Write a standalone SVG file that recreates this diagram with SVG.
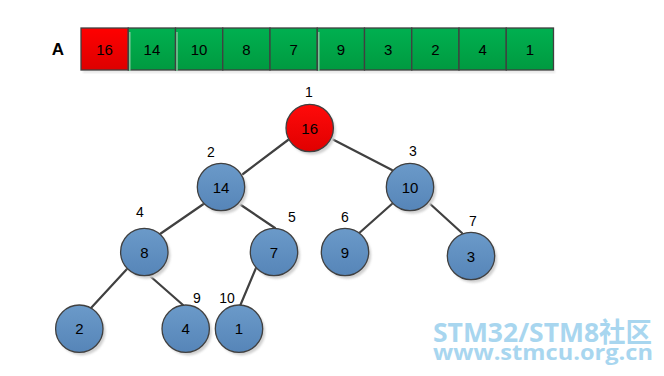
<svg xmlns="http://www.w3.org/2000/svg" width="664" height="376" viewBox="0 0 664 376">
<style>
.cell{stroke:#404040;stroke-width:1.3}
.ct{font-family:"Liberation Sans",Arial,sans-serif;font-size:15px;fill:#000;text-anchor:middle}
.nt{font-family:"Liberation Sans",Arial,sans-serif;font-size:15px;fill:#000;text-anchor:middle}
.idx{font-family:"Liberation Sans",Arial,sans-serif;font-size:14px;fill:#000;text-anchor:middle}
.node{stroke:#404040;stroke-width:1.3}
.blue{fill:url(#gb)}
.red{fill:url(#gr)}
.edge{stroke:#404040;stroke-width:2.2;fill:none;stroke-linecap:round}
.wm{font-family:"Open Sans","Noto Sans CJK SC",sans-serif;font-weight:bold;fill:#a8d6ef}
</style>
<defs>
<linearGradient id="gb" x1="0" y1="0" x2="0" y2="1"><stop offset="0" stop-color="#6b9ac9"/><stop offset="1" stop-color="#5685b8"/></linearGradient>
<linearGradient id="gr" x1="0" y1="0" x2="0" y2="1"><stop offset="0" stop-color="#ff0a0a"/><stop offset="1" stop-color="#e00000"/></linearGradient>
<linearGradient id="gg" x1="0" y1="0" x2="0" y2="1"><stop offset="0" stop-color="#00b050"/><stop offset="1" stop-color="#009a40"/></linearGradient>
<linearGradient id="gcr" x1="0" y1="0" x2="0" y2="1"><stop offset="0" stop-color="#ff0000"/><stop offset="1" stop-color="#dd0000"/></linearGradient>
<filter id="sh" x="-30%" y="-30%" width="160%" height="160%"><feGaussianBlur stdDeviation="1.2"/></filter>
</defs>
<rect width="664" height="376" fill="#fff"/>

<g id="array">
<text x="58" y="55" style="font-family:'Liberation Sans',Arial,sans-serif;font-size:17px;font-weight:bold;fill:#000" text-anchor="middle">A</text>
<rect x="83" y="70" width="472" height="3" fill="#e6e6e6" filter="url(#sh)"/>
<rect class="cell" x="81" y="28" width="47.25" height="42" fill="url(#gcr)"/>
<rect class="cell" x="128.25" y="28" width="47.25" height="42" fill="url(#gg)"/>
<rect class="cell" x="175.5" y="28" width="47.25" height="42" fill="url(#gg)"/>
<rect class="cell" x="222.75" y="28" width="47.25" height="42" fill="url(#gg)"/>
<rect class="cell" x="270" y="28" width="47.25" height="42" fill="url(#gg)"/>
<rect class="cell" x="317.25" y="28" width="47.25" height="42" fill="url(#gg)"/>
<rect class="cell" x="364.5" y="28" width="47.25" height="42" fill="url(#gg)"/>
<rect class="cell" x="411.75" y="28" width="47.25" height="42" fill="url(#gg)"/>
<rect class="cell" x="459" y="28" width="47.25" height="42" fill="url(#gg)"/>
<rect class="cell" x="506.25" y="28" width="47.25" height="42" fill="url(#gg)"/>
<line x1="129.8" y1="32" x2="129.8" y2="71" stroke="#7fc79a" stroke-width="1.5"/>
<line x1="177" y1="32" x2="177" y2="71" stroke="#7fc79a" stroke-width="1.5"/>
<line x1="318.8" y1="32" x2="318.8" y2="71" stroke="#7fc79a" stroke-width="1.5"/>
<text class="ct" x="104.6" y="55">16</text>
<text class="ct" x="151.9" y="55">14</text>
<text class="ct" x="199.1" y="55">10</text>
<text class="ct" x="246.4" y="55">8</text>
<text class="ct" x="293.6" y="55">7</text>
<text class="ct" x="340.9" y="55">9</text>
<text class="ct" x="388.1" y="55">3</text>
<text class="ct" x="435.4" y="55">2</text>
<text class="ct" x="482.6" y="55">4</text>
<text class="ct" x="529.9" y="55">1</text>
</g>

<g id="connectors">
<line class="edge" x1="288" y1="140" x2="243" y2="174"/>
<line class="edge" x1="332" y1="139" x2="392" y2="170"/>
<line class="edge" x1="205" y1="203" x2="160" y2="234"/>
<line class="edge" x1="238" y1="203" x2="275" y2="228"/>
<line class="edge" x1="393" y1="203" x2="357" y2="235"/>
<line class="edge" x1="428" y1="202" x2="462" y2="233"/>
<line class="edge" x1="127" y1="269" x2="91" y2="308"/>
<line class="edge" x1="150" y1="276" x2="183" y2="305"/>
<line class="edge" x1="256" y1="268" x2="240" y2="306"/>
</g>

<g id="n1"><circle cx="312" cy="131" r="23.7" fill="#d0d0d0" filter="url(#sh)"/><circle class="node red" cx="309.7" cy="128" r="23.7"/><text class="nt" x="309.7" y="133.5">16</text><text class="idx" x="309" y="97">1</text></g>
<g id="n2"><circle cx="223.5" cy="190" r="23.7" fill="#d0d0d0" filter="url(#sh)"/><circle class="node blue" cx="221" cy="187" r="23.7"/><text class="nt" x="221" y="192.5">14</text><text class="idx" x="211" y="157">2</text></g>
<g id="n3"><circle cx="412.5" cy="190" r="23.7" fill="#d0d0d0" filter="url(#sh)"/><circle class="node blue" cx="410" cy="187" r="23.7"/><text class="nt" x="410" y="192.5">10</text><text class="idx" x="413" y="156">3</text></g>
<g id="n4"><circle cx="146.8" cy="255" r="23.7" fill="#d0d0d0" filter="url(#sh)"/><circle class="node blue" cx="144.3" cy="252" r="23.7"/><text class="nt" x="144.3" y="257.5">8</text><text class="idx" x="140" y="217">4</text></g>
<g id="n5"><circle cx="276.5" cy="255" r="23.7" fill="#d0d0d0" filter="url(#sh)"/><circle class="node blue" cx="274" cy="252" r="23.7"/><text class="nt" x="274" y="257.5">7</text><text class="idx" x="292" y="222">5</text></g>
<g id="n6"><circle cx="347.5" cy="255" r="23.7" fill="#d0d0d0" filter="url(#sh)"/><circle class="node blue" cx="345" cy="252" r="23.7"/><text class="nt" x="345" y="257.5">9</text><text class="idx" x="345" y="222">6</text></g>
<g id="n7"><circle cx="473.5" cy="259" r="23.7" fill="#d0d0d0" filter="url(#sh)"/><circle class="node blue" cx="471" cy="256" r="23.7"/><text class="nt" x="471" y="261.5">3</text><text class="idx" x="473" y="226">7</text></g>
<g id="n8"><circle cx="81.8" cy="331.7" r="23.7" fill="#d0d0d0" filter="url(#sh)"/><circle class="node blue" cx="79.3" cy="328.7" r="23.7"/><text class="nt" x="79.3" y="334.2">2</text></g>
<g id="n9"><circle cx="188.2" cy="331.7" r="23.7" fill="#d0d0d0" filter="url(#sh)"/><circle class="node blue" cx="185.7" cy="328.7" r="23.7"/><text class="nt" x="185.7" y="334.2">4</text><text class="idx" x="197" y="303">9</text></g>
<g id="n10"><circle cx="241.5" cy="331.7" r="23.7" fill="#d0d0d0" filter="url(#sh)"/><circle class="node blue" cx="239" cy="328.7" r="23.7"/><text class="nt" x="239" y="334.2">1</text><text class="idx" x="227" y="303">10</text></g>

<g id="watermark">
<text class="wm" x="433" y="342" font-size="27" textLength="219" lengthAdjust="spacingAndGlyphs">STM32/STM8社区</text>
<text class="wm" x="433" y="360" font-size="21" textLength="220" lengthAdjust="spacingAndGlyphs">www.stmcu.org.cn</text>
</g>
</svg>
